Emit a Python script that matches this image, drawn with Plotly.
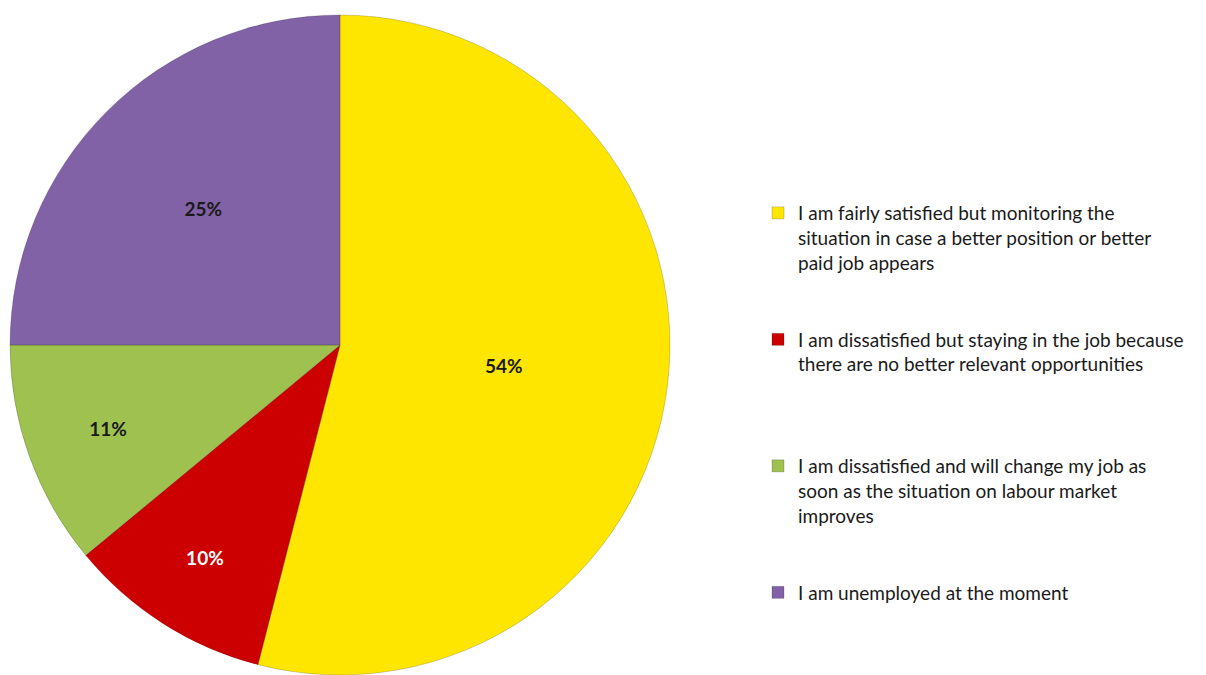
import plotly.graph_objects as go

labels = [
    "I am fairly satisfied but monitoring the<br>situation in case a better position or better<br>paid job appears",
    "I am dissatisfied but staying in the job because<br>there are no better relevant opportunities",
    "I am dissatisfied and will change my job as<br>soon as the situation on labour market<br>improves",
    "I am unemployed at the moment",
]
values = [54, 10, 11, 25]
colors = ["#FFE600", "#CC0000", "#9FC150", "#8262A6"]
text_colors = ["#1a1a1a", "#ffffff", "#1a1a1a", "#1a1a1a"]

# pad legend entries (except the last) so each occupies the same height, as in the reference
max_lines = 5
legend_labels = [
    l + ("<br> " * (max_lines - 1 - l.count("<br>")) if i < len(labels) - 1 else "")
    for i, l in enumerate(labels)
]

W, H = 1206, 675
fig = go.Figure(go.Pie(
    labels=legend_labels,
    values=values,
    sort=False,
    direction="clockwise",
    rotation=0,
    marker=dict(colors=colors, line=dict(color="rgba(0,0,0,0.18)", width=1)),
    texttemplate="%{percent:.0%}",
    textposition="inside",
    insidetextorientation="horizontal",
    textfont=dict(family="Lato, 'Open Sans', sans-serif", size=19, color=text_colors, weight="bold"),
    hoverinfo="label+percent",
    domain=dict(x=[2 / W, 662 / W], y=[8 / H, 668 / H]),
))

fig.update_layout(
    width=W, height=H,
    margin=dict(l=0, r=0, t=0, b=0),
    paper_bgcolor="white",
    plot_bgcolor="white",
    showlegend=True,
    legend=dict(
        x=750 / W, xanchor="left",
        y=1 - 186 / H, yanchor="top",
        valign="top",
        font=dict(family="Lato, 'Open Sans', sans-serif", size=19, color="#1a1a1a"),
        bgcolor="rgba(0,0,0,0)",
        itemclick=False,
    ),
    font=dict(family="Lato, sans-serif"),
)

fig.write_html("out.html")
